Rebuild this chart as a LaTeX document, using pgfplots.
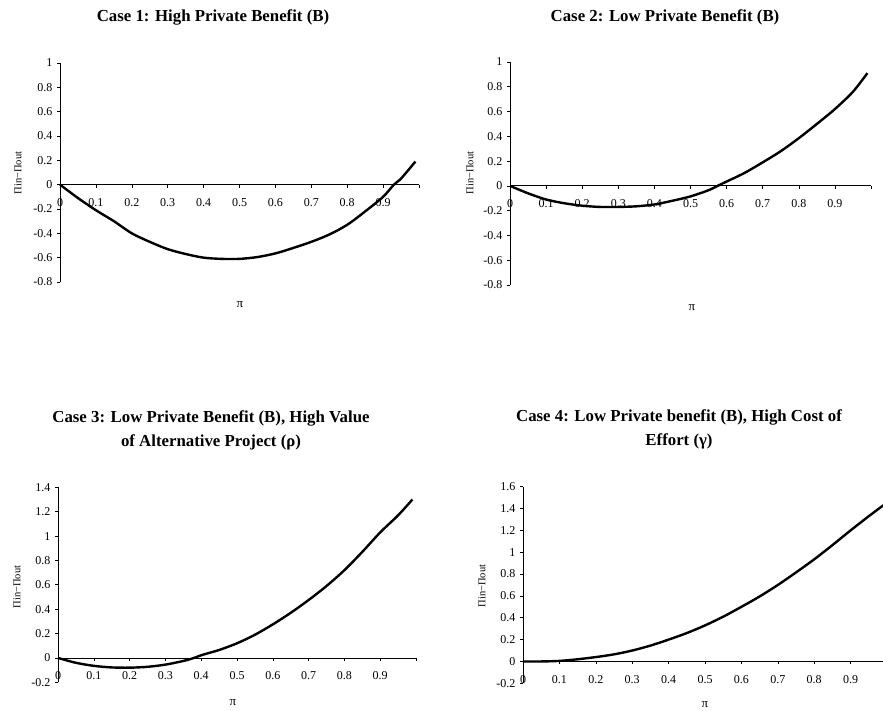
\documentclass[border=0pt]{standalone}
\usepackage{fontspec}
\setmainfont{Liberation Serif}
\usepackage{pgfplots}
\pgfplotsset{compat=1.18}

\pgfplotsset{
  excelpanel/.style={
    scale only axis,
    anchor=south west,
    xmin=0, xmax=1,
    axis x line=middle,
    axis y line=left,
    axis line style={-, line width=0.8pt, black},
    xtick={0,0.1,0.2,0.3,0.4,0.5,0.6,0.7,0.8,0.9,1},
    xticklabels={0,0.1,0.2,0.3,0.4,0.5,0.6,0.7,0.8,0.9,{}},
    hide obscured x ticks=false,
    hide obscured y ticks=false,
    tick align=outside,
    major tick length=3pt,
    tick style={black, line width=0.6pt},
    ticklabel style={font=\fontsize{12}{13}\selectfont},
    x tick label style={yshift=-7.5pt},
    y tick label style={xshift=-1pt},
    clip=false,
  },
  curve/.style={black, line width=2.4pt, no markers, smooth},
}

\begin{document}
\begin{tikzpicture}[x=1pt,y=1pt]
\clip (0,0) rectangle (883,711);

% titles and labels (positions in px of the 883x711 reference, y from bottom)
\tikzset{ttl/.style={font=\fontsize{16.8}{24}\selectfont\bfseries, align=center},
         ylab/.style={font=\fontsize{10.5}{11}\selectfont, rotate=90},
         xlab/.style={font=\fontsize{13}{14}\selectfont}}
\node[ttl] at (213,694) {Case 1: High Private Benefit (B)};
\node[ttl] at (665,694) {Case 2: Low Private Benefit (B)};
\node[ttl] at (211,281) {Case 3: Low Private Benefit (B), High Value\\of Alternative Project (ρ)};
\node[ttl] at (679,282) {Case 4: Low Private benefit (B), High Cost of\\Effort (γ)};
\node[ylab] at (18,538) {Πin−Πout};
\node[ylab] at (470,538) {Πin−Πout};
\node[ylab] at (17,124) {Πin−Πout};
\node[ylab] at (482,125) {Πin−Πout};
\node[xlab] at (240,406) {π};
\node[xlab] at (692,403) {π};
\node[xlab] at (233,8) {π};
\node[xlab] at (705,6) {π};

% Case 1
\begin{axis}[excelpanel, at={(60pt,429pt)}, width=359pt, height=219pt,
  ymin=-0.8, ymax=1,
  ytick={-0.8,-0.6,-0.4,-0.2,0,0.2,0.4,0.6,0.8,1},
  yticklabels={-0.8,-0.6,-0.4,-0.2,0,0.2,0.4,0.6,0.8,1}]
\addplot[curve] coordinates {
  (0,0) (0.05,-0.11) (0.1,-0.21) (0.15,-0.30) (0.2,-0.40) (0.25,-0.47)
  (0.3,-0.53) (0.35,-0.57) (0.4,-0.60) (0.45,-0.61) (0.5,-0.61) (0.55,-0.595)
  (0.6,-0.565) (0.65,-0.52) (0.7,-0.47) (0.75,-0.41) (0.8,-0.33) (0.85,-0.22)
  (0.9,-0.10) (0.93,0.0) (0.95,0.05) (0.99,0.19)
};
\end{axis}

% Case 2
\begin{axis}[excelpanel, at={(510pt,426pt)}, width=361pt, height=223pt,
  ymin=-0.8, ymax=1,
  ytick={-0.8,-0.6,-0.4,-0.2,0,0.2,0.4,0.6,0.8,1},
  yticklabels={-0.8,-0.6,-0.4,-0.2,0,0.2,0.4,0.6,0.8,1}]
\addplot[curve] coordinates {
  (0,0) (0.05,-0.06) (0.1,-0.11) (0.15,-0.14) (0.2,-0.16) (0.25,-0.17)
  (0.3,-0.17) (0.35,-0.165) (0.4,-0.15) (0.45,-0.12) (0.5,-0.085) (0.55,-0.035)
  (0.575,0.0) (0.6,0.035) (0.65,0.105) (0.7,0.19) (0.75,0.28) (0.8,0.385)
  (0.85,0.50) (0.9,0.62) (0.95,0.76) (0.99,0.91)
};
\end{axis}

% Case 3
\begin{axis}[excelpanel, at={(58pt,28.7pt)}, width=358pt, height=195pt,
  ymin=-0.2, ymax=1.4,
  ytick={-0.2,0,0.2,0.4,0.6,0.8,1,1.2,1.4},
  yticklabels={-0.2,0,0.2,0.4,0.6,0.8,1,1.2,1.4}]
\addplot[curve] coordinates {
  (0,0) (0.05,-0.04) (0.1,-0.065) (0.15,-0.078) (0.2,-0.08) (0.25,-0.073)
  (0.3,-0.055) (0.35,-0.025) (0.38,0.0) (0.4,0.022) (0.45,0.065) (0.5,0.12)
  (0.55,0.19) (0.6,0.275) (0.65,0.37) (0.7,0.475) (0.75,0.59) (0.8,0.72)
  (0.85,0.87) (0.9,1.03) (0.95,1.17) (0.99,1.30)
};
\end{axis}

% Case 4
\begin{axis}[excelpanel, at={(523pt,27.7pt)}, width=364pt, height=196.6pt,
  ymin=-0.2, ymax=1.6,
  ytick={-0.2,0,0.2,0.4,0.6,0.8,1,1.2,1.4,1.6},
  yticklabels={-0.2,0,0.2,0.4,0.6,0.8,1,1.2,1.4,1.6}]
\addplot[curve] coordinates {
  (0,0) (0.05,0.0) (0.1,0.005) (0.15,0.02) (0.2,0.04) (0.25,0.065)
  (0.3,0.10) (0.35,0.145) (0.4,0.20) (0.45,0.26) (0.5,0.33) (0.55,0.41)
  (0.6,0.50) (0.65,0.595) (0.7,0.70) (0.75,0.815) (0.8,0.935) (0.85,1.065)
  (0.9,1.20) (0.95,1.33) (0.99,1.43)
};
\end{axis}
\end{tikzpicture}
\end{document}
